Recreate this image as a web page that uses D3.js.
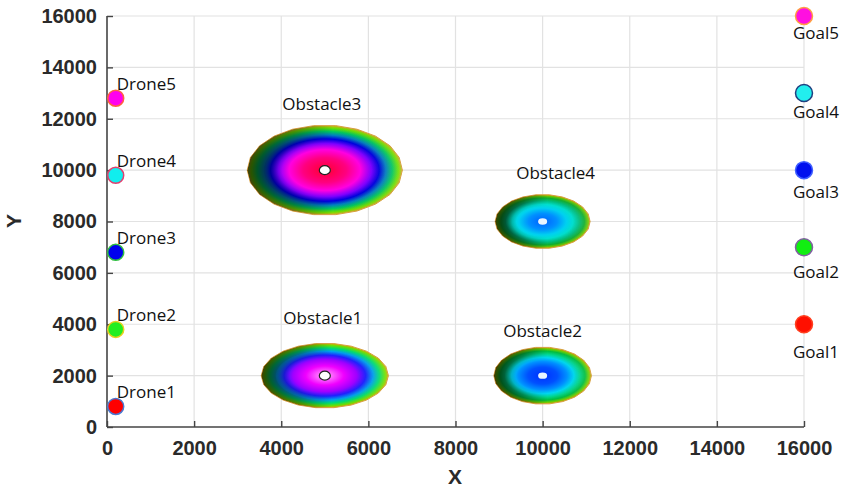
<!DOCTYPE html>
<html><head><meta charset="utf-8">
<script src="https://cdn.jsdelivr.net/npm/d3@7"></script>
<style>body{margin:0;background:#fff}svg{display:block}</style>
</head><body><svg id="c" width="843" height="488"></svg>
<script>
// ---- data ----
const xTicks = [0,2000,4000,6000,8000,10000,12000,14000,16000];
const yTicks = [0,2000,4000,6000,8000,10000,12000,14000,16000];
const droneNames = ["Drone1","Drone2","Drone3","Drone4","Drone5"];
const droneX = [200,200,200,200,200];
const droneY = [800,3800,6800,9800,12800];
const goalNames = ["Goal1","Goal2","Goal3","Goal4","Goal5"];
const goalX = [16000,16000,16000,16000,16000];
const goalY = [4000,7000,10000,13000,16000];
const obstacleNames = ["Obstacle1","Obstacle2","Obstacle3","Obstacle4"];
const obstacleX = [5000,10000,5000,10000];
const obstacleY = [2000,2000,10000,8000];
const obstacleRX = [1460,1120,1780,1090];
const obstacleRY = [1260,1110,1750,1050];

// ---- styles / label offsets (pixels) ----
const droneFill = ["#ff0000","#22ee22","#0000ee","#11eeee","#ff00ee"];
const droneStroke = ["#4a78d0","#e8d020","#30c040","#e04070","#ff6040"];
const goalFill = ["#ff1000","#11ee11","#0010ee","#22eeee","#ff10e0"];
const goalStroke = ["#ff4020","#8060a0","#4060ff","#204080","#ffa040"];
const goalLabelDy = [34,31,28,25,23];
const obLabelDx = [-2,0,-3,13];
const obLabelDy = [-52,-39,-60,-43];
const obStops = [
  [[0,'#ffffff'],[0.1,'#ff70ff'],[0.3,'#f000ff'],[0.5,'#a000ff'],[0.64,'#2020ff'],[0.76,'#00a0f0'],[0.86,'#00e070'],[0.95,'#70e000'],[1,'#d0b000']],
  [[0,'#0030ff'],[0.3,'#0050ff'],[0.5,'#0090ff'],[0.64,'#00d8f0'],[0.76,'#00d890'],[0.87,'#00c040'],[0.95,'#70d000'],[1,'#d0a000']],
  [[0,'#ff0030'],[0.28,'#ff0080'],[0.46,'#ff00e0'],[0.6,'#8000ff'],[0.7,'#0000e0'],[0.79,'#0080c0'],[0.87,'#00c860'],[0.95,'#70e000'],[1,'#d0b020']],
  [[0,'#0060ff'],[0.3,'#0090ff'],[0.5,'#00d0f0'],[0.64,'#00e0d0'],[0.77,'#00c080'],[0.88,'#10b030'],[0.96,'#70c800'],[1,'#d0a000']]
];
const obDotStyle = ["ring","plain","ring","plain"];
const labelFont = "Open Sans, sans-serif";
const axisFont = "Liberation Sans, Arial, sans-serif";

// ---- chart ----
const W = 843, H = 488;
const m = {l:107, r:39, t:16, b:61};
const svg = d3.select("#c");
const x = d3.scaleLinear().domain([0,16000]).range([m.l, W-m.r]);
const y = d3.scaleLinear().domain([0,16000]).range([H-m.b, m.t]);
const defs = svg.append("defs");

// grid
svg.append("g").selectAll("line").data(xTicks.slice(1)).join("line")
  .attr("x1",d=>x(d)).attr("x2",d=>x(d)).attr("y1",y(0)).attr("y2",y(16000))
  .attr("stroke","#e2e2e2").attr("stroke-width",1.2);
svg.append("g").selectAll("line").data(yTicks.slice(1)).join("line")
  .attr("x1",x(0)).attr("x2",x(16000)).attr("y1",d=>y(d)).attr("y2",d=>y(d))
  .attr("stroke","#e2e2e2").attr("stroke-width",1.2);

// obstacles
const N = 22;
obstacleNames.forEach((name,i)=>{
  const pts = d3.range(N).map(k=>{
    const a = 2*Math.PI*k/N;
    return [x(obstacleX[i]+obstacleRX[i]*Math.cos(a)), y(obstacleY[i]+obstacleRY[i]*Math.sin(a))];
  });
  const path = d3.line().curve(d3.curveLinearClosed)(pts);
  const g = defs.append("radialGradient").attr("id","rg"+i);
  obStops[i].forEach(s=>g.append("stop").attr("offset",s[0]).attr("stop-color",s[1]));
  const lg = defs.append("linearGradient").attr("id","lg"+i);
  lg.append("stop").attr("offset",0).attr("stop-color","#000").attr("stop-opacity",0.65);
  lg.append("stop").attr("offset",0.3).attr("stop-color","#000").attr("stop-opacity",0.35);
  lg.append("stop").attr("offset",0.55).attr("stop-color","#000").attr("stop-opacity",0);
  lg.append("stop").attr("offset",1).attr("stop-color","#fff").attr("stop-opacity",0.1);
  const mg = defs.append("radialGradient").attr("id","mg"+i);
  mg.append("stop").attr("offset",0).attr("stop-color","#000");
  mg.append("stop").attr("offset",0.55).attr("stop-color","#000");
  mg.append("stop").attr("offset",0.78).attr("stop-color","#fff");
  mg.append("stop").attr("offset",1).attr("stop-color","#fff");
  const mask = defs.append("mask").attr("id","mk"+i);
  mask.append("path").attr("d",path).attr("fill",`url(#mg${i})`);
  svg.append("path").attr("d",path).attr("fill",`url(#rg${i})`)
    .attr("stroke","#d8a040").attr("stroke-width",1);
  svg.append("path").attr("d",path).attr("fill",`url(#lg${i})`).attr("mask",`url(#mk${i})`);
  if (obDotStyle[i]==="ring") {
    svg.append("ellipse").attr("cx",x(obstacleX[i])).attr("cy",y(obstacleY[i]))
      .attr("rx",5.5).attr("ry",4.5).attr("fill","#fff").attr("stroke","#222").attr("stroke-width",1.2);
  } else {
    svg.append("ellipse").attr("cx",x(obstacleX[i])).attr("cy",y(obstacleY[i]))
      .attr("rx",4.5).attr("ry",3.2).attr("fill","#e8f4ff");
  }
  svg.append("text").attr("x",x(obstacleX[i])+obLabelDx[i])
    .attr("y",y(obstacleY[i])+obLabelDy[i])
    .attr("text-anchor","middle").attr("font-family",labelFont).attr("font-weight",500)
    .attr("font-size",17).attr("fill","#111").text(name);
});

// axes
const xAxis = d3.axisBottom(x).tickValues(xTicks).tickSize(-6).tickPadding(14).tickFormat(d3.format("d"));
const yAxis = d3.axisLeft(y).tickValues(yTicks).tickSize(-6).tickPadding(10).tickFormat(d3.format("d"));
const gx = svg.append("g").attr("transform",`translate(0,${y(0)})`).call(xAxis);
const gy = svg.append("g").attr("transform",`translate(${x(0)},0)`).call(yAxis);
[gx,gy].forEach(g=>{
  g.select(".domain").attr("stroke","#444").attr("stroke-width",1.6);
  g.selectAll(".tick line").attr("stroke","#444").attr("stroke-width",1.4);
  g.selectAll(".tick text").attr("font-family",axisFont)
    .attr("font-weight","bold").attr("font-size",20).attr("fill","#2a2a2a");
});
gx.select(".domain").attr("d",`M${x(0)},0H${x(16000)}`);
gy.select(".domain").attr("d",`M0,${y(0)}V${y(16000)}`);

svg.append("text").attr("x",455).attr("y",484).attr("text-anchor","middle")
  .attr("font-family",axisFont).attr("font-weight","bold")
  .attr("font-size",21).attr("fill","#2a2a2a").text("X");
svg.append("text").attr("transform","translate(21,221) rotate(-90)").attr("text-anchor","middle")
  .attr("font-family",axisFont).attr("font-weight","bold")
  .attr("font-size",21).attr("fill","#2a2a2a").text("Y");

// drones
droneNames.forEach((n,i)=>{
  svg.append("circle").attr("cx",x(droneX[i])).attr("cy",y(droneY[i])).attr("r",8)
    .attr("fill",droneFill[i]).attr("stroke",droneStroke[i]).attr("stroke-width",1.5);
  svg.append("text").attr("x",x(droneX[i])+1).attr("y",y(droneY[i])-8)
    .attr("font-family",labelFont).attr("font-weight",500).attr("font-size",17).attr("fill","#111").text(n);
});
// goals
goalNames.forEach((n,i)=>{
  svg.append("circle").attr("cx",x(goalX[i])).attr("cy",y(goalY[i])).attr("r",8.5)
    .attr("fill",goalFill[i]).attr("stroke",goalStroke[i]).attr("stroke-width",1.5);
  svg.append("text").attr("x",x(goalX[i])+12).attr("y",y(goalY[i])+goalLabelDy[i])
    .attr("text-anchor","middle").attr("font-family",labelFont).attr("font-weight",500)
    .attr("font-size",17).attr("fill","#111").text(n);
});
</script></body></html>
